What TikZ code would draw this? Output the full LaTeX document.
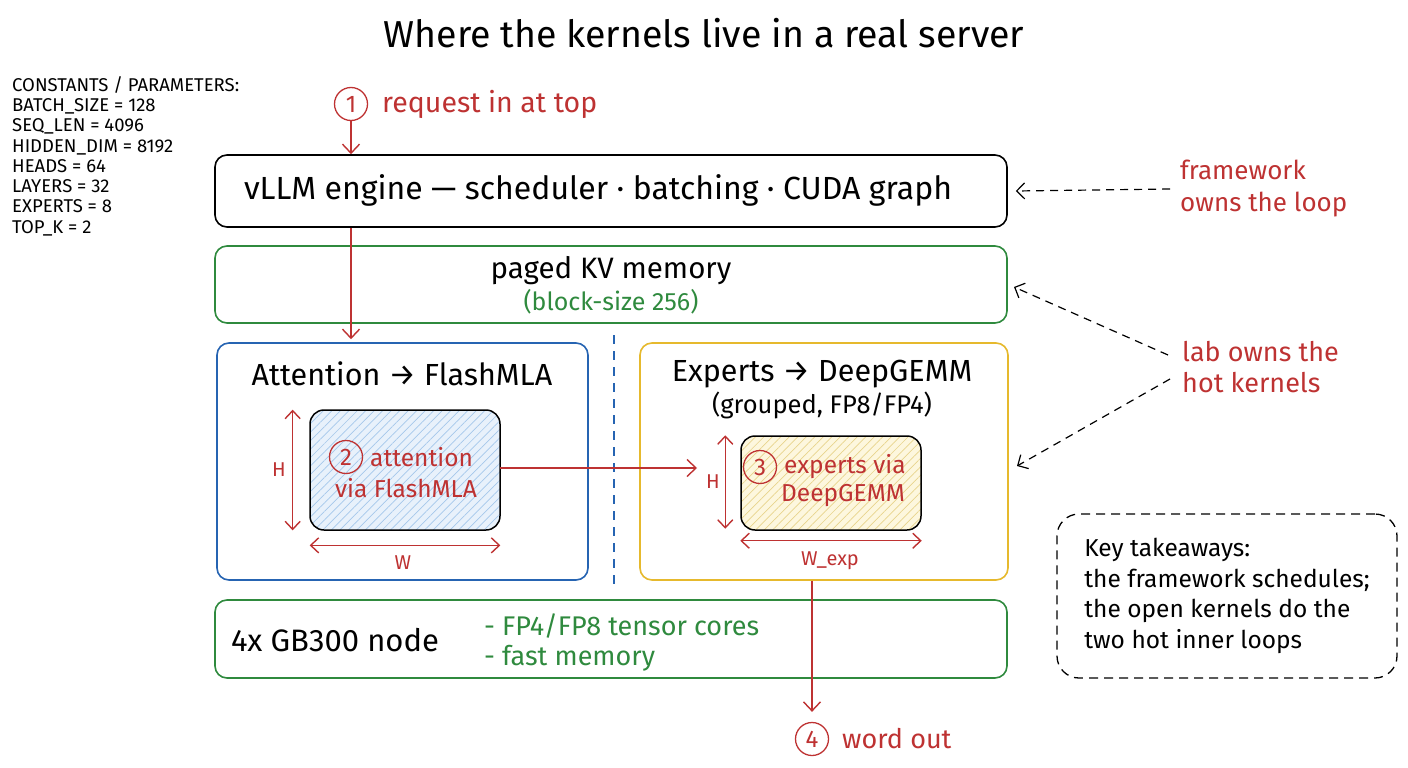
\documentclass[tikz,border=0pt]{standalone}
\usepackage{fontspec}
\setmainfont{Fira Sans}
\usetikzlibrary{arrows.meta,calc,patterns.meta}
\definecolor{myred}{RGB}{190,50,50}
\definecolor{mygreen}{RGB}{47,138,62}
\definecolor{myblue}{RGB}{38,100,178}
\definecolor{mygold}{RGB}{230,185,45}
\definecolor{hatchblue}{RGB}{165,200,235}
\definecolor{fillblue}{RGB}{232,241,251}
\definecolor{hatchgold}{RGB}{232,212,140}
\definecolor{fillgold}{RGB}{253,247,222}
\newcommand\fsz[2]{\fontsize{#1}{#2}\selectfont}
\begin{document}
\begin{tikzpicture}[x=1pt,y=-1pt,
  box/.style={draw, rounded corners=12pt, line width=1.6pt, inner sep=0pt},
  numcirc/.style={circle, draw=myred, line width=1.3pt, text=myred, minimum size=33pt, inner sep=0pt, font=\fsz{24}{26}},
  redtxt/.style={text=myred, font=\fsz{24.5}{30}, inner sep=0pt},
  flow/.style={draw=myred, line width=1.4pt, -{Straight Barb[length=9pt,width=17pt,line width=1.4pt]}},
  dim/.style={draw=myred, line width=1.4pt, {Straight Barb[length=8pt,width=15pt,line width=1.4pt]}-{Straight Barb[length=8pt,width=15pt,line width=1.4pt]}},
  note/.style={draw=black, line width=1.2pt, dash pattern=on 8pt off 6pt, -{Straight Barb[length=8pt,width=16pt,line width=1.2pt]}},
  maintxt/.style={font=\fsz{30.5}{34}, inner sep=0pt},
  dimtxt/.style={text=myred, font=\fsz{20}{22}, inner sep=0pt}
]
\useasboundingbox[fill=white] (0,0) rectangle (1408,768);

% title
\node[font=\fsz{37.5}{42}, inner sep=0pt] (title) at (704,33) {Where the kernels live in a real server};

% constants
\node[anchor=north west, align=left, font=\fsz{18.5}{20.3}, inner sep=0pt] (consts) at (12,76)
 {CONSTANTS / PARAMETERS:\\ BATCH\_SIZE = 128\\ SEQ\_LEN = 4096\\ HIDDEN\_DIM = 8192\\ HEADS = 64\\ LAYERS = 32\\ EXPERTS = 8\\ TOP\_K = 2};

% step 1
\node[numcirc] (c1) at (351,104) {1};
\node[redtxt, anchor=west, font=\fsz{28.5}{32}] (req) at (382,104) {request in at top};

% engine
\node[box, minimum width=792pt, minimum height=72pt] (engine) at (611,191) {};
\node[maintxt, font=\fsz{32}{36}] (englbl) at (598,190) {vLLM engine — scheduler · batching · CUDA graph};

% KV memory
\node[box, draw=mygreen, minimum width=792pt, minimum height=77pt] (kv) at (611,284.5) {};
\node[maintxt, font=\fsz{29.5}{34}] (kvlbl) at (611,271) {paged KV memory};
\node[font=\fsz{25}{28}, text=mygreen, inner sep=0pt] (kvsub) at (611,302) {(block-size 256)};

% attention box
\node[box, draw=myblue, minimum width=371pt, minimum height=237pt] (attn) at (402.5,461.5) {};
\node[maintxt] (attnlbl) at (402,374) {Attention → FlashMLA};
\node[box, line width=1.5pt, rounded corners=14pt, minimum width=190pt, minimum height=120pt,
  preaction={fill=fillblue}, pattern={Lines[angle=45,distance=6pt,line width=0.7pt]}, pattern color=hatchblue] (ain) at (405,470) {};
\node[numcirc] (c2) at (346,457) {2};
\node[redtxt, anchor=west] (a1) at (370,457) {attention};
\node[redtxt] (a2) at (406,488) {via FlashMLA};
\draw[dim] ($(ain.north west)+(-17,0)$) -- ($(ain.south west)+(-17,0)$);
\node[dimtxt] (hlbl1) at (279,470) {H};
\draw[dim] ($(ain.south west)+(0,15)$) -- ($(ain.south east)+(0,15)$);
\node[dimtxt] (wlbl) at (403,563) {W};

% separator
\coordinate (sepT) at (614,335);
\coordinate (sepB) at (614,585);
\draw[myblue, line width=1.3pt, dash pattern=on 9pt off 7pt] (sepT) -- (sepB);

% experts box
\node[box, draw=mygold, minimum width=368pt, minimum height=237pt] (exps) at (824,461.5) {};
\node[maintxt] (explbl) at (822,374) {Experts → DeepGEMM};
\node[font=\fsz{25.5}{28}, inner sep=0pt] (expsub) at (822,405) {(grouped, FP8/FP4)};
\node[box, line width=1.5pt, rounded corners=14pt, minimum width=180pt, minimum height=94pt,
  preaction={fill=fillgold}, pattern={Lines[angle=45,distance=6pt,line width=0.7pt]}, pattern color=hatchgold] (ein) at (831,483) {};
\node[numcirc] (c3) at (760,467) {3};
\node[redtxt, anchor=west] (e1) at (784,467) {experts via};
\node[redtxt] (e2) at (843,496) {DeepGEMM};
\draw[dim] ($(ein.north west)+(-15,0)$) -- ($(ein.south west)+(-15,-2)$);
\node[dimtxt] (hlbl2) at (713,482) {H};
\draw[dim] ($(ein.south west)+(0,10)$) -- ($(ein.south east)+(0,10)$);
\node[dimtxt] (wexp) at (830,561) {W\_exp};

% GB300 node
\node[box, draw=mygreen, minimum width=792pt, minimum height=78pt] (gb) at (611,639) {};
\node[maintxt, anchor=west, font=\fsz{31}{34}] (gblbl) at (231,640) {4x GB300 node};
\node[anchor=west, align=left, text=mygreen, font=\fsz{27}{30}, inner sep=0pt] (gbfeat) at (484,642) {- FP4/FP8 tensor cores\\ - fast memory};

% step 4
\node[numcirc] (c4) at (812,739) {4};
\node[redtxt, anchor=west, font=\fsz{27}{30}] (out) at (842,739) {word out};

% flow arrows
\draw[flow] (c1.south) -- (c1 |- engine.north);
\draw[flow] (engine.south -| c1) -- ($(c1 |- attn.north)+(0,-3)$);
\coordinate (einto) at (697,468);
\draw[flow] (ain.east |- einto) -- (einto);
\draw[flow] (exps.south -| c4) -- ($(c4.north)+(0,-10)$);

% annotations
\node[redtxt, anchor=west, align=left, font=\fsz{26}{32}] (fw) at (1180,189) {framework\\ owns the loop};
\node[redtxt, anchor=west, align=left, font=\fsz{27}{31}] (lab) at (1182,367) {lab owns the\\ hot kernels};
\coordinate (fwend) at ($(engine.east)+(8,0)$);
\coordinate (kvend) at (1014,287);
\coordinate (exend) at (1017,466);
\draw[note] (1170,189) -- (fwend);
\draw[note] (1168,355) -- (kvend);
\draw[note] (1170,379) -- (exend);

% takeaways
\node[draw, line width=1.3pt, dash pattern=on 9pt off 6pt, rounded corners=22pt, minimum width=340pt, minimum height=164pt,
  align=left, font=\fsz{24.5}{30.5}, inner sep=0pt] (tk) at (1227,596)
 {Key takeaways:\\ the framework schedules;\\ the open kernels do the\\ two hot inner loops};
\end{tikzpicture}
\end{document}
